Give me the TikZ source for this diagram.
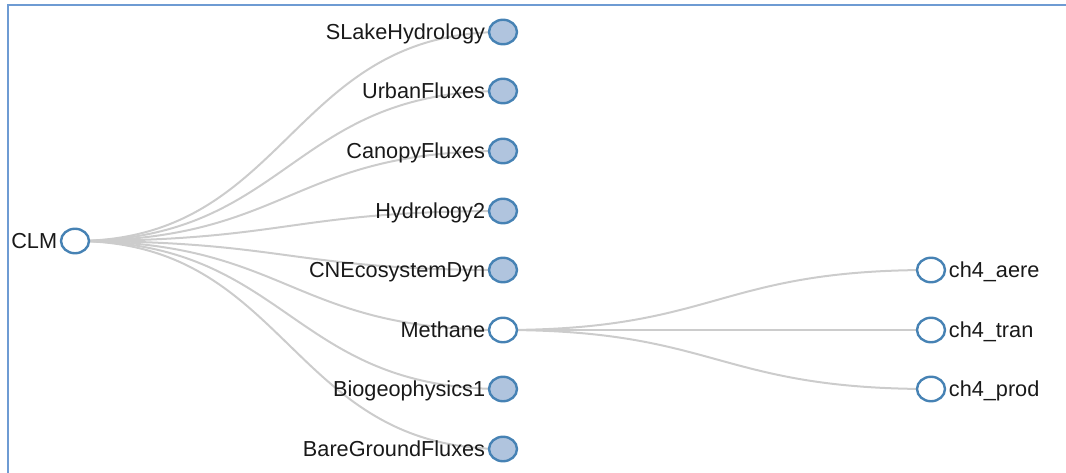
\documentclass[tikz,border=0pt]{standalone}
\usepackage{fontspec}
\setmainfont{Liberation Sans}
\usetikzlibrary{shapes.geometric}
\pgfdeclarelayer{bg}
\pgfsetlayers{bg,main}
\definecolor{steel}{HTML}{4682B4}
\definecolor{lsteel}{HTML}{B0C4DE}
\definecolor{linkc}{HTML}{CCCCCC}
\definecolor{framec}{HTML}{6E9BD3}
\tikzset{
  treenode/.style={ellipse, draw=steel, line width=2.4pt, fill=white,
    minimum width=28pt, minimum height=24.5pt, inner sep=0pt},
  collapsed/.style={treenode, fill=lsteel},
  lbl/.style={font=\fontsize{21.7}{24}\selectfont, text=black!90, inner sep=0pt},
  link/.style={draw=linkc, line width=2pt},
}
\begin{document}
\begin{tikzpicture}[x=1pt,y=-1pt]
\useasboundingbox (0,0) rectangle (1066,473);
\draw[framec, line width=2.2pt] (8,473) -- (8,5) -- (1066,5);
% nodes
\node[treenode] (clm) at (75,241) {};
\node[collapsed] (slake) at (503,32) {};
\node[collapsed] (urban) at (503,91) {};
\node[collapsed] (canopy) at (503,151) {};
\node[collapsed] (hydro) at (503,211) {};
\node[collapsed] (cneco) at (503,270) {};
\node[treenode] (meth) at (503,330) {};
\node[collapsed] (biogeo) at (503,389) {};
\node[collapsed] (bare) at (503,449) {};
\node[treenode] (aere) at (931,270) {};
\node[treenode] (tran) at (931,330) {};
\node[treenode] (prod) at (931,389) {};
% labels
\node[lbl, anchor=base east] (lclm) at ([xshift=-2.5pt,yshift=-7.6pt]clm.west) {CLM};
\foreach \n/\t in {slake/SLakeHydrology, urban/UrbanFluxes, canopy/CanopyFluxes, hydro/Hydrology2, cneco/CNEcosystemDyn, meth/Methane, biogeo/Biogeophysics1, bare/BareGroundFluxes}
  \node[lbl, anchor=base east] (l\n) at ([xshift=-2.5pt,yshift=-7.6pt]\n.west) {\t};
\foreach \n/\t in {aere/ch4\_aere, tran/ch4\_tran, prod/ch4\_prod}
  \node[lbl, anchor=base west] (l\n) at ([xshift=2.5pt,yshift=-7.6pt]\n.east) {\t};
% links
\begin{pgfonlayer}{bg}
\foreach \n in {slake,urban,canopy,hydro,cneco,meth,biogeo,bare}
  \draw[link] (clm.center) .. controls +(214,0) and +(-214,0) .. (\n.center);
\foreach \n in {aere,tran,prod}
  \draw[link] (meth.center) .. controls +(214,0) and +(-214,0) .. (\n.center);
\end{pgfonlayer}
\end{tikzpicture}
\end{document}
